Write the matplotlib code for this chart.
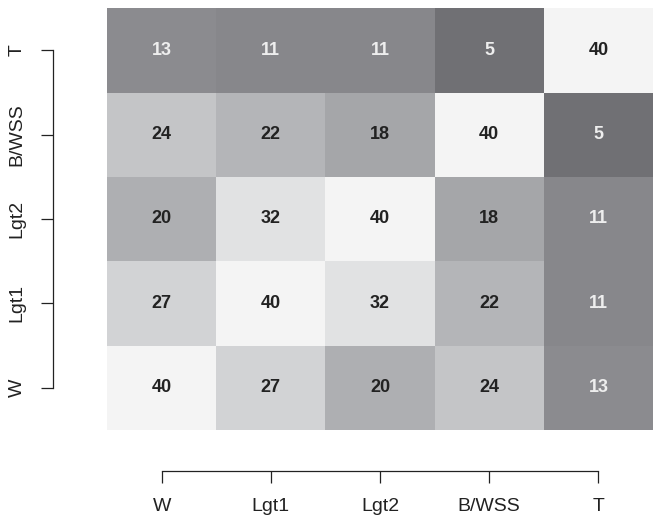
import matplotlib
matplotlib.use("Agg")
import matplotlib.pyplot as plt
import numpy as np
from matplotlib.colors import LinearSegmentedColormap, Normalize

labels = ["W", "Lgt1", "Lgt2", "B/WSS", "T"]
# rows listed bottom (W) to top (T)
values = [
    [40, 27, 20, 24, 13],
    [27, 40, 32, 22, 11],
    [20, 32, 40, 18, 11],
    [24, 22, 18, 40, 5],
    [13, 11, 11, 5, 40],
]

plt.rcParams['font.family'] = ['Liberation Sans', 'DejaVu Sans']

data = np.array(values)
cmap = LinearSegmentedColormap.from_list("g", [
    (0.0, "#707074"), (6/35, "#88888c"), (8/35, "#8c8c90"), (13/35, "#a5a6a9"),
    (15/35, "#afb0b3"), (17/35, "#b4b5b8"), (19/35, "#c5c6c8"), (22/35, "#d3d4d6"),
    (27/35, "#e1e2e3"), (1.0, "#f4f4f4")])
norm = Normalize(vmin=5, vmax=40)

fig = plt.figure(figsize=(6.53, 5.2), dpi=100)
ax = fig.add_axes([107/653, 1-430/520, 546/653, 422/520])
n = len(labels)
ax.imshow(data, cmap=cmap, norm=norm, origin="lower", aspect="auto",
          extent=(-0.5, n-0.5, -0.5, n-0.5), interpolation="nearest")
for i in range(n):
    for j in range(n):
        v = data[i, j]
        ax.text(j, i, str(v), ha="center", va="center", fontsize=13,
                fontweight="bold", color="#eeeeee" if v <= 13 else "#222222")

ax.set_xlim(-0.5, n-0.5)
ax.set_ylim(-0.5, n-0.5)
ax.set_xticks(range(n), labels)
ax.set_yticks(range(n), labels)
for s in ["top", "right"]:
    ax.spines[s].set_visible(False)
ax.spines["bottom"].set_position(("outward", 29.5))
ax.spines["left"].set_position(("outward", 39))
ax.spines["bottom"].set_bounds(0, n-1)
ax.spines["left"].set_bounds(0, n-1)
for s in ["bottom", "left"]:
    ax.spines[s].set_linewidth(0.9)
    ax.spines[s].set_color("#222222")
ax.tick_params(axis="x", length=8.5, width=0.9, pad=11, colors="#222222",
               labelsize=14)
ax.tick_params(axis="y", length=8.5, width=0.9, pad=11, colors="#222222",
               labelsize=14, labelrotation=90)
for t in ax.get_yticklabels():
    t.set_va("center")

fig.savefig("out.png", dpi=100)
